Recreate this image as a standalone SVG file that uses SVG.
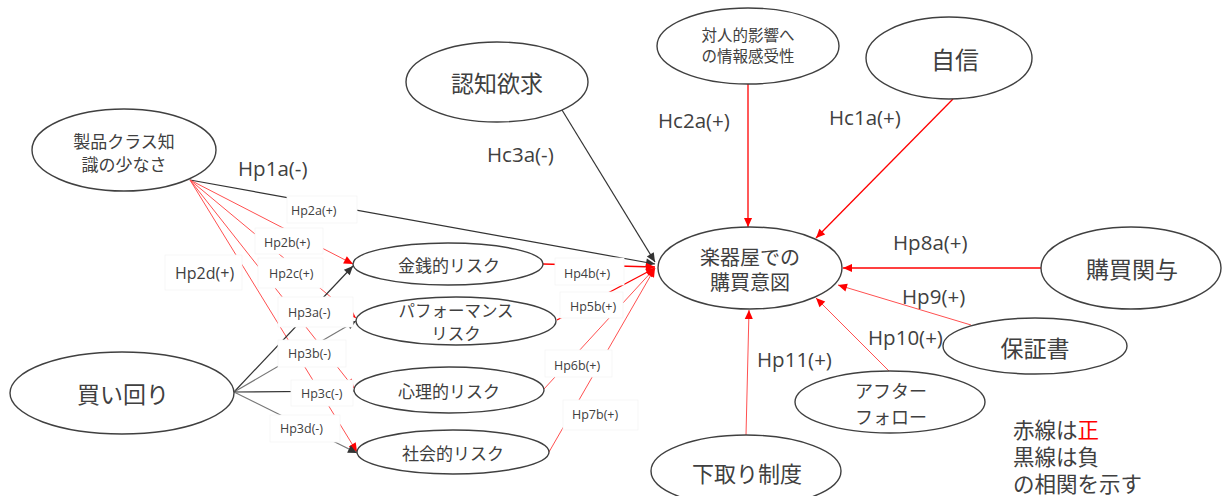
<svg xmlns="http://www.w3.org/2000/svg" width="1222" height="496" viewBox="0 0 1222 496">
<defs>
<marker id="ar" viewBox="0 0 10 10" refX="10" refY="5" markerWidth="10" markerHeight="9" markerUnits="userSpaceOnUse" orient="auto"><path d="M0,0.5 L10,5 L0,9.5 z" fill="#ff0000"/></marker>
<marker id="ab" viewBox="0 0 10 10" refX="10" refY="5" markerWidth="10" markerHeight="9" markerUnits="userSpaceOnUse" orient="auto"><path d="M0,0.5 L10,5 L0,9.5 z" fill="#333"/></marker>
<style>
.n ellipse{fill:#fff;stroke:#404040;stroke-width:1.4}
text{font-family:"Open Sans","Noto Sans CJK JP",sans-serif;fill:#404040}
.j{font-family:"Noto Sans CJK JP",sans-serif;text-anchor:middle;dominant-baseline:central}
.l{dominant-baseline:central}
.r{stroke:#ff0000;stroke-width:1.3;fill:none}
.rl{stroke:#ff5050;stroke-width:1;fill:none}
.b{stroke:#333;stroke-width:1.2;fill:none}
.g{stroke:#777;stroke-width:1.2;fill:none}
.bx rect{fill:#fff;stroke:#f4f4f4;stroke-width:0.8}
.bx text{font-size:12.5px;dominant-baseline:central}
.lg{font-family:"Noto Sans CJK JP",sans-serif;font-size:21.5px;dominant-baseline:central}
</style>
</defs>
<rect width="1222" height="496" fill="#fff"/>
<g id="connectors">
<line class="b" x1="562" y1="110" x2="655" y2="262" marker-end="url(#ab)"/>
<line class="r" x1="748" y1="84" x2="748" y2="227" marker-end="url(#ar)"/>
<line class="r" x1="953" y1="99" x2="816" y2="238" marker-end="url(#ar)"/>
<line class="r" x1="1041" y1="268" x2="843" y2="268" marker-end="url(#ar)"/>
<line class="rl" x1="971" y1="325" x2="838" y2="285" marker-end="url(#ar)"/>
<line class="rl" x1="890" y1="372" x2="816" y2="298" marker-end="url(#ar)"/>
<line class="rl" x1="746" y1="435" x2="749" y2="310" marker-end="url(#ar)"/>
<line class="b" x1="190" y1="180" x2="655" y2="264" marker-end="url(#ab)"/>
<line class="rl" x1="190" y1="180" x2="353" y2="264" marker-end="url(#ar)"/>
<line class="rl" x1="190" y1="180" x2="356" y2="318" marker-end="url(#ar)"/>
<line class="rl" x1="190" y1="180" x2="354" y2="388" marker-end="url(#ar)"/>
<line class="rl" x1="190" y1="180" x2="357" y2="452" marker-end="url(#ar)"/>
<line class="b" x1="234" y1="392" x2="353" y2="266" marker-end="url(#ab)"/>
<line class="g" x1="234" y1="392" x2="356" y2="321" marker-end="url(#ab)"/>
<line class="b" x1="234" y1="392" x2="354" y2="391" marker-end="url(#ab)"/>
<line class="g" x1="234" y1="392" x2="357" y2="453" marker-end="url(#ab)"/>
<line class="r" x1="543" y1="264" x2="655" y2="267" marker-end="url(#ar)"/>
<line class="r" x1="557" y1="320" x2="655" y2="268" marker-end="url(#ar)"/>
<line class="rl" x1="544" y1="389" x2="655" y2="268" marker-end="url(#ar)"/>
<line class="rl" x1="549" y1="452" x2="655" y2="268" marker-end="url(#ar)"/>
</g>
<g id="labels">
<g class="bx"><rect x="287" y="196" width="70" height="27"/><text x="291" y="210">Hp2a(+)</text></g>
<g class="bx"><rect x="255" y="228" width="68" height="26"/><text x="264" y="242">Hp2b(+)</text></g>
<g class="bx"><rect x="258" y="258" width="65" height="30"/><text x="269" y="273">Hp2c(+)</text></g>
<g class="bx"><rect x="165" y="255" width="77" height="35"/><text x="175" y="273" style="font-size:16px">Hp2d(+)</text></g>
<g class="bx"><rect x="278" y="297" width="75" height="30"/><text x="288" y="312">Hp3a(-)</text></g>
<g class="bx"><rect x="278" y="340" width="68" height="27"/><text x="288" y="353">Hp3b(-)</text></g>
<g class="bx"><rect x="291" y="380" width="62" height="26"/><text x="301" y="393">Hp3c(-)</text></g>
<g class="bx"><rect x="270" y="415" width="70" height="27"/><text x="280" y="428">Hp3d(-)</text></g>
<g class="bx"><rect x="555" y="258" width="69" height="27"/><text x="564" y="273">Hp4b(+)</text></g>
<g class="bx"><rect x="560" y="292" width="63" height="26"/><text x="570" y="306">Hp5b(+)</text></g>
<g class="bx"><rect x="545" y="350" width="67" height="27"/><text x="554" y="365">Hp6b(+)</text></g>
<g class="bx"><rect x="563" y="400" width="75" height="30"/><text x="572" y="414">Hp7b(+)</text></g>
<text class="l" x="238" y="168" font-size="20.5">Hp1a(-)</text>
<text class="l" x="487" y="154" font-size="20.5">Hc3a(-)</text>
<text class="l" x="658" y="120" font-size="20.5">Hc2a(+)</text>
<text class="l" x="829" y="117" font-size="20.5">Hc1a(+)</text>
<text class="l" x="893" y="242" font-size="20.5">Hp8a(+)</text>
<text class="l" x="902" y="296" font-size="20.5">Hp9(+)</text>
<text class="l" x="868" y="337" font-size="20.5">Hp10(+)</text>
<text class="l" x="757" y="359" font-size="20.5">Hp11(+)</text>
</g>
<g id="n_seihin" class="n"><ellipse cx="124" cy="150" rx="92" ry="41"/><text class="j" x="124" y="140" font-size="17">製品クラス知</text><text class="j" x="124" y="163" font-size="17">識の少なさ</text></g>
<g id="n_ninchi" class="n"><ellipse cx="497" cy="82" rx="91" ry="40"/><text class="j" x="497" y="82" font-size="23">認知欲求</text></g>
<g id="n_taijin" class="n"><ellipse cx="748" cy="46" rx="91" ry="38"/><text class="j" x="748" y="34" font-size="15.5">対人的影響へ</text><text class="j" x="748" y="55" font-size="15.5">の情報感受性</text></g>
<g id="n_jishin" class="n"><ellipse cx="949" cy="58" rx="83" ry="41"/><text class="j" x="955" y="58" font-size="24">自信</text></g>
<g id="n_ito" class="n"><ellipse cx="750" cy="268" rx="92" ry="41"/><text class="j" x="750" y="256" font-size="20">楽器屋での</text><text class="j" x="750" y="281" font-size="20">購買意図</text></g>
<g id="n_kanyo" class="n"><ellipse cx="1131" cy="268" rx="90" ry="41"/><text class="j" x="1132" y="268" font-size="23">購買関与</text></g>
<g id="n_hosho" class="n"><ellipse cx="1035" cy="346" rx="92" ry="28"/><text class="j" x="1035" y="347" font-size="23">保証書</text></g>
<g id="n_after" class="n"><ellipse cx="890" cy="402" rx="95" ry="31"/><text class="j" x="891" y="390" font-size="18">アフター</text><text class="j" x="891" y="416" font-size="18">フォロー</text></g>
<g id="n_shitadori" class="n"><ellipse cx="746" cy="471" rx="95" ry="36"/><text class="j" x="747" y="472" font-size="22">下取り制度</text></g>
<g id="n_kaimawari" class="n"><ellipse cx="122" cy="393" rx="112" ry="41"/><text class="j" x="123" y="393" font-size="23">買い回り</text></g>
<g id="n_kinsen" class="n"><ellipse cx="448" cy="264" rx="95" ry="21"/><text class="j" x="449" y="264" font-size="17">金銭的リスク</text></g>
<g id="n_perf" class="n"><ellipse cx="456" cy="321" rx="100" ry="24"/><text class="j" x="456" y="310" font-size="16.5">パフォーマンス</text><text class="j" x="456" y="333" font-size="16.5">リスク</text></g>
<g id="n_shinri" class="n"><ellipse cx="449" cy="390" rx="95" ry="23"/><text class="j" x="449" y="390" font-size="17">心理的リスク</text></g>
<g id="n_shakai" class="n"><ellipse cx="453" cy="452" rx="96" ry="22"/><text class="j" x="453" y="452" font-size="17">社会的リスク</text></g>
<g id="legend">
<text class="lg" x="1013" y="428">赤線は<tspan fill="#ff0000">正</tspan></text>
<text class="lg" x="1013" y="455">黒線は負</text>
<text class="lg" x="1013" y="482">の相関を示す</text>
</g>
</svg>
